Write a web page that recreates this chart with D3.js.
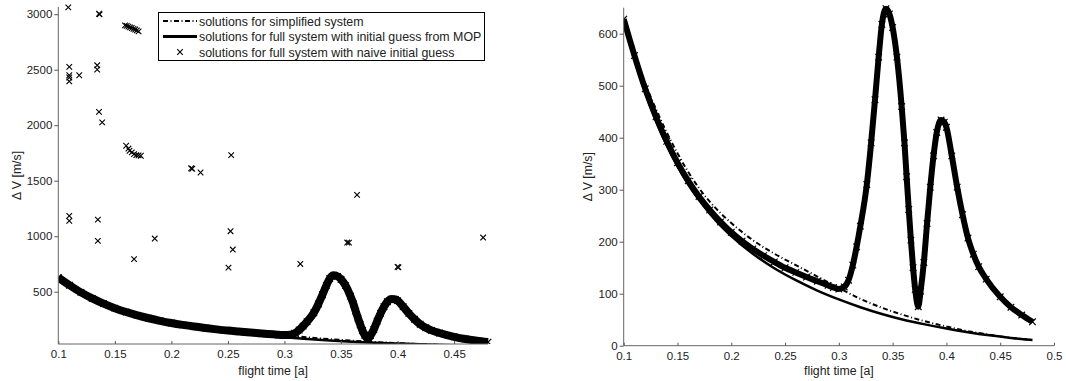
<!DOCTYPE html>
<html>
<head>
<meta charset="utf-8">
<script src="https://cdn.jsdelivr.net/npm/d3@7"></script>
<style>
  body { margin: 0; background: #fff; }
  text { font-family: "Liberation Sans", Arial, sans-serif; fill: #222; }
</style>
</head>
<body>
<svg id="chart" width="1066" height="381"></svg>
<script>
// simplified system (dash-dot)
const simpT = [0.1, 0.11, 0.12, 0.13, 0.14, 0.15, 0.16, 0.17, 0.18, 0.19, 0.2, 0.22, 0.24, 0.26, 0.28, 0.3, 0.32, 0.34, 0.36, 0.38, 0.4, 0.42, 0.44, 0.46, 0.48];
const simpV = [626, 562, 504, 455, 410, 370, 334, 303, 277, 255, 236, 203, 177, 155, 133, 111, 90, 73, 59, 47, 37, 28, 21, 15, 11];

// full system, initial guess from MOP (solid)
const mopT = [0.1, 0.11, 0.12, 0.13, 0.14, 0.15, 0.16, 0.17, 0.18, 0.19, 0.2, 0.22, 0.24, 0.26, 0.28, 0.3, 0.32, 0.34, 0.36, 0.38, 0.4, 0.42, 0.44, 0.46, 0.48];
const mopV = [626, 552, 487, 432, 385, 345, 310, 280, 254, 231, 211, 177, 149, 126, 106, 89, 74, 61, 50, 41, 33, 26, 20, 15, 11];

// full system, naive initial guess: the dense band of solutions
const bandT = [0.1, 0.11, 0.12, 0.13, 0.14, 0.15, 0.16, 0.17, 0.18, 0.19, 0.2, 0.21, 0.22, 0.23, 0.24, 0.25, 0.26, 0.27, 0.28, 0.29, 0.295,
  0.3, 0.305, 0.309, 0.313, 0.3165, 0.32, 0.326, 0.33, 0.3336, 0.337, 0.34, 0.3438, 0.347, 0.35, 0.354, 0.3584, 0.361, 0.363, 0.365, 0.367, 0.369, 0.371, 0.3738,
  0.376, 0.379, 0.382, 0.385, 0.388, 0.391, 0.395, 0.398, 0.4, 0.405, 0.41, 0.415, 0.42, 0.425, 0.43, 0.437, 0.45, 0.46, 0.47, 0.48];
const bandV = [628, 558, 494, 440, 393, 352, 317, 287, 261, 238, 218, 201, 186, 173, 161, 150, 141, 132, 124, 116, 112,
  109, 113, 126, 155, 190, 230, 310, 390, 473, 555, 618, 648, 638, 612, 555, 460, 390, 325, 262, 203, 150, 108, 75,
  105, 160, 235, 305, 365, 410, 434, 430, 420, 365, 305, 252, 207, 176, 152, 128, 94, 74, 59, 46];

// full system, naive initial guess: scattered solutions
const scatT = [0.1085, 0.1088, 0.1091, 0.136, 0.1365, 0.159, 0.1605, 0.162, 0.1635, 0.165, 0.1665, 0.168, 0.1695, 0.171,
  0.1097, 0.1097, 0.1097, 0.1097, 0.1185, 0.1344, 0.1344, 0.136, 0.1388,
  0.160, 0.162, 0.163, 0.165, 0.167, 0.169, 0.171, 0.173, 0.2175, 0.2185, 0.2258, 0.2529, 0.3642,
  0.1097, 0.1097, 0.135, 0.135, 0.167, 0.1853, 0.2523, 0.2543, 0.2505, 0.314, 0.3555, 0.357, 0.4, 0.4008, 0.4757];
const scatV = [3068, 3062, 3066, 3004, 2998, 2900, 2895, 2888, 2882, 2876, 2868, 2862, 2855, 2845,
  2525, 2450, 2430, 2395, 2450, 2540, 2502, 2120, 2025,
  1815, 1790, 1770, 1755, 1740, 1730, 1728, 1725, 1612, 1608, 1574, 1730, 1372,
  1183, 1138, 1150, 958, 793, 979, 1045, 880, 717, 750, 943, 942, 724, 720, 988];

const xTicksL = [0.1, 0.15, 0.2, 0.25, 0.3, 0.35, 0.4, 0.45];
const yTicksL = [500, 1000, 1500, 2000, 2500, 3000];
const xTicksR = [0.1, 0.15, 0.2, 0.25, 0.3, 0.35, 0.4, 0.45, 0.5];
const yTicksR = [0, 100, 200, 300, 400, 500, 600];

const legendLabels = [
  "solutions for simplified system",
  "solutions for full system with initial guess from MOP",
  "solutions for full system with naive initial guess"
];

const svg = d3.select("#chart");
const dashDot = "5,2.5,1,2.5";

function zipped(t, v) { return t.map((d, i) => ({t: d, v: v[i]})); }

function panel(id, xDom, xRange, yDom, yRange, xTicks, yTicks, bandWidth, ylabelX) {
  const x = d3.scaleLinear().domain(xDom).range(xRange);
  const y = d3.scaleLinear().domain(yDom).range(yRange);

  svg.append("clipPath").attr("id", "clip" + id)
    .append("rect")
    .attr("x", xRange[0]).attr("y", yRange[1] - 3)
    .attr("width", xRange[1] - xRange[0] + 4)
    .attr("height", yRange[0] - yRange[1] + 3);

  const g = svg.append("g").attr("clip-path", `url(#clip${id})`);
  const line = d3.line().x(d => x(d.t)).y(d => y(d.v)).curve(d3.curveMonotoneX);

  // simplified system
  g.append("path")
    .datum(zipped(simpT, simpV))
    .attr("d", line)
    .attr("fill", "none").attr("stroke", "#000")
    .attr("stroke-width", 2).attr("stroke-dasharray", dashDot);

  // full system from MOP
  g.append("path")
    .datum(zipped(mopT, mopV))
    .attr("d", line)
    .attr("fill", "none").attr("stroke", "#000")
    .attr("stroke-width", 2.5);

  // naive guess: dense band
  const band = zipped(bandT, bandV);
  g.append("path")
    .datum(band)
    .attr("d", line)
    .attr("fill", "none").attr("stroke", "#000")
    .attr("stroke-width", bandWidth).attr("stroke-linejoin", "round");

  g.selectAll(".band-x")
    .data(band)
    .join("path")
    .attr("transform", d => `translate(${x(d.t)},${y(d.v)})`)
    .attr("d", d3.symbol().type(d3.symbolTimes).size(30))
    .attr("fill", "none").attr("stroke", "#000").attr("stroke-width", 1.2);

  // naive guess: scattered points
  g.selectAll(".scat-x")
    .data(zipped(scatT, scatV).filter(d => d.v <= yDom[1] && d.t <= xDom[1]))
    .join("path")
    .attr("transform", d => `translate(${x(d.t)},${y(d.v)})`)
    .attr("d", d3.symbol().type(d3.symbolTimes).size(22))
    .attr("fill", "none").attr("stroke", "#000").attr("stroke-width", 1.1);

  // axes
  const xAxis = svg.append("g")
    .attr("transform", `translate(0,${yRange[0]})`)
    .call(d3.axisBottom(x).tickValues(xTicks).tickSize(-3).tickPadding(6).tickFormat(d3.format("~g")));
  const yAxis = svg.append("g")
    .attr("transform", `translate(${xRange[0]},0)`)
    .call(d3.axisLeft(y).tickValues(yTicks).tickSize(4).tickPadding(2).tickFormat(d3.format("d")));
  [xAxis, yAxis].forEach(a => {
    a.select(".domain").attr("stroke", "#666");
    a.selectAll(".tick line").attr("stroke", "#555");
    a.selectAll("text").attr("font-size", 11.5).attr("fill", "#222")
      .attr("font-family", "'Liberation Sans', Arial, sans-serif");
  });
  xAxis.select(".domain").attr("d", `M${xRange[0]},0H${xRange[1]}`);
  yAxis.select(".domain").attr("d", `M0,${yRange[0]}V${yRange[1]}`);

  // labels
  svg.append("text")
    .attr("x", (xRange[0] + xRange[1]) / 2).attr("y", 375)
    .attr("text-anchor", "middle").attr("font-size", 12.3)
    .text("flight time [a]");
  svg.append("text")
    .attr("transform", `translate(${ylabelX},${(yRange[0] + yRange[1]) / 2}) rotate(-90)`)
    .attr("text-anchor", "middle").attr("font-size", 12.3)
    .text("\u0394 V [m/s]");
}

panel("L", [0.1, 0.48], [58.3, 488], [29, 3065], [344, 7], xTicksL, yTicksL, 8, 21);
panel("R", [0.1, 0.5], [623.7, 1054], [0, 650], [345.7, 7.7], xTicksR, yTicksR, 6, 592);

// legend on the left panel
const leg = svg.append("g");
leg.append("rect")
  .attr("x", 158.5).attr("y", 12.5).attr("width", 326).attr("height", 48)
  .attr("fill", "#fff").attr("stroke", "#000").attr("stroke-width", 1);
const rowY = [21, 36.5, 52];
leg.selectAll(".lab")
  .data(legendLabels)
  .join("text")
  .attr("x", 199).attr("y", (d, i) => rowY[i] + 4.5)
  .attr("font-size", 12.4)
  .text(d => d);
leg.append("line")
  .attr("x1", 163).attr("x2", 197).attr("y1", rowY[0]).attr("y2", rowY[0])
  .attr("stroke", "#000").attr("stroke-width", 2).attr("stroke-dasharray", dashDot);
leg.append("line")
  .attr("x1", 163).attr("x2", 197).attr("y1", rowY[1]).attr("y2", rowY[1])
  .attr("stroke", "#000").attr("stroke-width", 3);
leg.append("path")
  .attr("transform", `translate(180,${rowY[2]})`)
  .attr("d", d3.symbol().type(d3.symbolTimes).size(22))
  .attr("fill", "none").attr("stroke", "#000").attr("stroke-width", 1.1);
</script>
</body>
</html>
